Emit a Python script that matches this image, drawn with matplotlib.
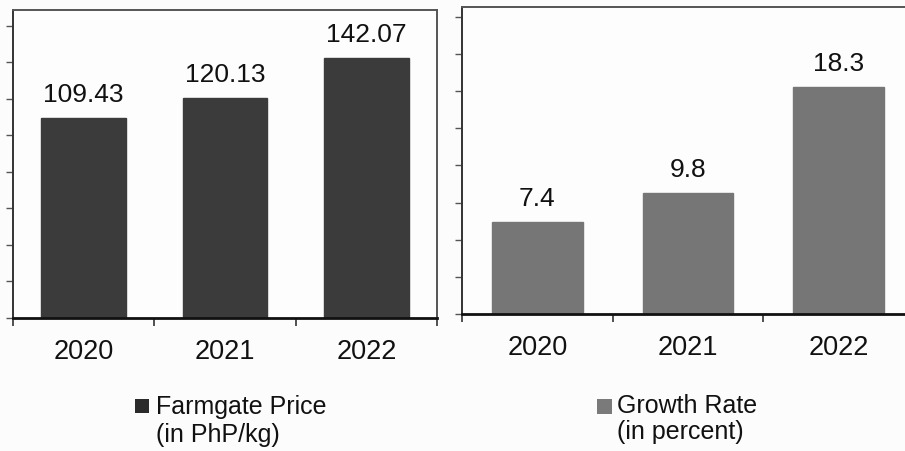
import matplotlib
matplotlib.use("Agg")
import matplotlib.pyplot as plt
from matplotlib.patches import Rectangle

# ── data ──────────────────────────────────────────────────────────────────────
years = ["2020", "2021", "2022"]
farmgate_price = [109.43, 120.13, 142.07]
growth_rate = [7.4, 9.8, 18.3]
price_labels = ["109.43", "120.13", "142.07"]
growth_labels = ["7.4", "9.8", "18.3"]
legend_left = ["Farmgate Price", "(in PhP/kg)"]
legend_right = ["Growth Rate", "(in percent)"]

plt.rcParams["font.family"] = ["Liberation Sans", "DejaVu Sans"]

W, H = 905, 451
fig = plt.figure(figsize=(W / 100, H / 100), dpi=100, facecolor="#fcfcfc")


def px_axes(x0, y0, x1, y1):
    # pixel box (top-left origin) -> figure fraction
    return fig.add_axes([x0 / W, 1 - y1 / H, (x1 - x0) / W, (y1 - y0) / H])


def style_panel(ax, values, labels, color, ytop, ystep):
    x = range(len(values))
    bars = ax.bar(x, values, width=0.6, color=color, edgecolor=color, zorder=2)
    for b, lab in zip(bars, labels):
        ax.annotate(lab, (b.get_x() + b.get_width() / 2, b.get_height()),
                    xytext=(0, 11.5), textcoords="offset points",
                    ha="center", va="baseline", fontsize=19, color="#111111")
    ax.set_xlim(-0.5, len(values) - 0.5)
    ax.set_ylim(0, ytop)
    ax.set_facecolor("#fdfdfd")

    ax.set_xticks(range(len(values)))
    ax.set_xticklabels(years, fontsize=19.5, color="#111111")
    ax.set_xticks([i - 0.5 for i in range(len(values) + 1)], minor=True)
    ax.tick_params(axis="x", which="major", length=0, pad=15)
    ax.tick_params(axis="x", which="minor", length=6, width=1.2,
                   color="#333333", direction="out")

    yt = [i * ystep for i in range(int(ytop // ystep) + 1)]
    ax.set_yticks(yt)
    ax.set_yticklabels([])
    ax.tick_params(axis="y", length=5, width=1.0, color="#555555",
                   direction="out")

    for side in ("top", "right"):
        ax.spines[side].set_color("#555555")
        ax.spines[side].set_linewidth(1.4)
    ax.spines["left"].set_color("#333333")
    ax.spines["left"].set_linewidth(1.4)
    ax.spines["bottom"].set_color("#111111")
    ax.spines["bottom"].set_linewidth(2.0)


ax1 = px_axes(13, 10, 437, 318)
style_panel(ax1, farmgate_price, price_labels, "#3b3b3b", 168.5, 20)

ax2 = px_axes(462, 7, 914, 314)
style_panel(ax2, growth_rate, growth_labels, "#767676", 24.8, 3)


def legend_block(x_sq, y_sq, size, color, x_txt, lines, baselines):
    fig.patches.append(Rectangle((x_sq / W, 1 - (y_sq + size) / H), size / W,
                                 size / H, transform=fig.transFigure,
                                 facecolor=color, edgecolor="none"))
    for txt, yb in zip(lines, baselines):
        fig.text(x_txt / W, 1 - yb / H, txt, ha="left", va="baseline",
                 fontsize=18, color="#111111")


legend_block(135, 399, 14, "#2b2b2b", 156, legend_left, [414, 442])
legend_block(597, 399, 15, "#7a7a7a", 617, legend_right, [413, 439])

fig.savefig("out.png", dpi=100, facecolor=fig.get_facecolor())
